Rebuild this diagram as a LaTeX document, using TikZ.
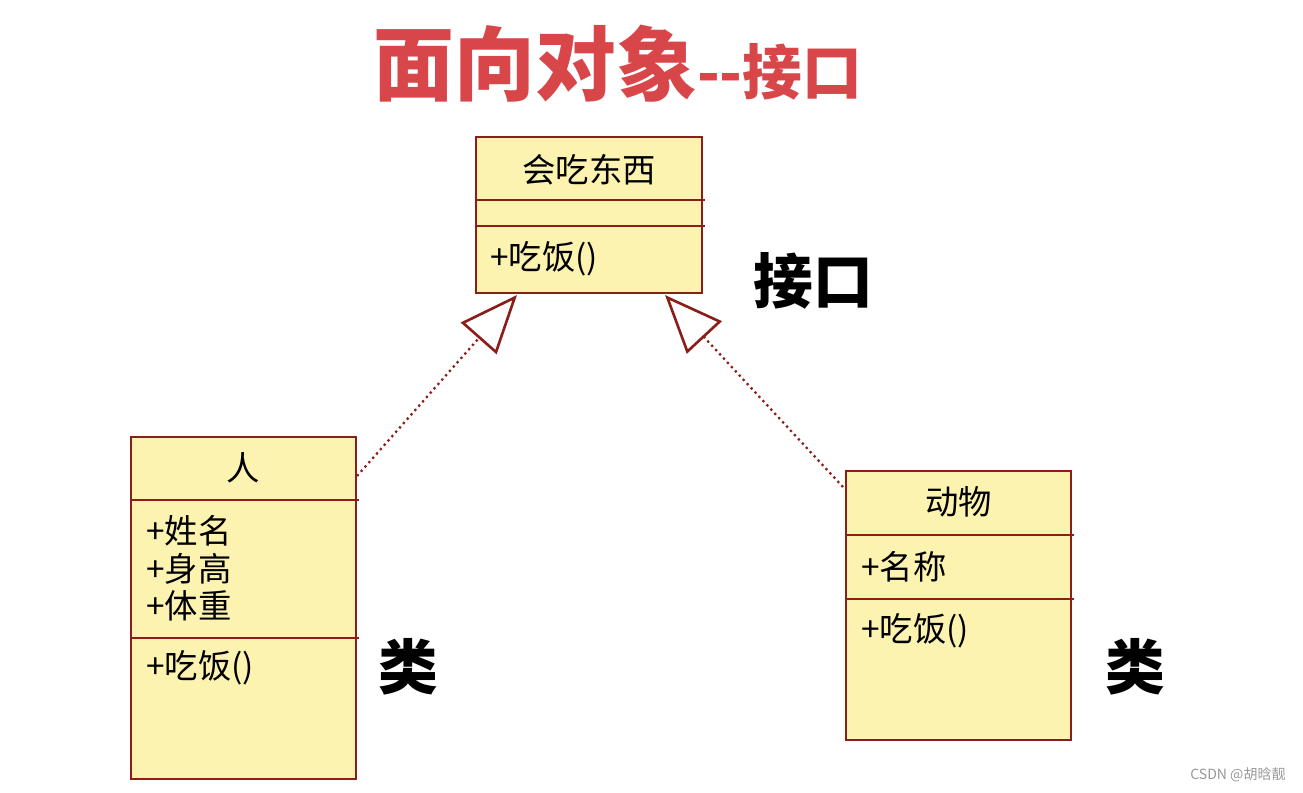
\documentclass[tikz,border=0pt]{standalone}
\usepackage{fontspec}
\setmainfont{Noto Sans CJK SC}
\usetikzlibrary{arrows.meta}
\definecolor{umlfill}{HTML}{FDF3B0}
\definecolor{umlline}{HTML}{8A1F1A}
\definecolor{titlered}{HTML}{D8464A}
\begin{document}
\begin{tikzpicture}[x=0.02cm, y=-0.02cm,
  umlbox/.style={draw=umlline, fill=umlfill, line width=1.4pt, minimum width=4.5cm},
  divider/.style={umlline, line width=1.4pt},
  boxtitle/.style={font=\fontsize{19}{19}\selectfont},
  member/.style={anchor=west, font=\fontsize{19}{19}\selectfont, inner sep=0pt},
  bigtag/.style={font=\fontsize{34}{34}\selectfont\bfseries},
  realize/.style={umlline, line width=1.3pt, dotted, -{Triangle[open, length=33pt, width=27pt, line width=1.5pt, fill=white]}}]
\useasboundingbox (0,0) rectangle (1303,792);
% title
\node[text=titlered, font=\bfseries] (title) at (618,64) {{\fontsize{46}{46}\selectfont 面向对象}{\fontsize{34}{34}\selectfont -{}-接口}};
% interface
\node[umlbox, minimum height=3.12cm, minimum width=4.52cm] (iface) at (589,215) {};
\node[boxtitle] (ifacename) at (589,170) {会吃东西};
\draw[divider] (476,200) -- (705,200);
\draw[divider] (476,226) -- (705,226);
\node[member] (ifaceop) at (490,259) {+吃饭()};
\node[bigtag] (ifacetag) at (813,281) {接口};
% class person
\node[umlbox, minimum height=6.84cm] (person) at (243.5,608) {};
\node[boxtitle] (personname) at (243.5,468) {人};
\draw[divider] (131,500) -- (359,500);
\draw[divider] (131,638) -- (359,638);
\node[member] (attr1) at (146,531) {+姓名};
\node[member] (attr2) at (146,569) {+身高};
\node[member] (attr3) at (146,606) {+体重};
\node[member] (personop) at (146,668) {+吃饭()};
\node[bigtag] (persontag) at (408,667) {类};
% class animal
\node[umlbox, minimum height=5.38cm] (animal) at (958.5,605.5) {};
\node[boxtitle] (animalname) at (958.5,502) {动物};
\draw[divider] (846,535) -- (1074,535);
\draw[divider] (846,599) -- (1074,599);
\node[member] (attr4) at (861,567) {+名称};
\node[member] (animalop) at (861,631) {+吃饭()};
\node[bigtag] (animaltag) at (1135,667) {类};
% realizations
\coordinate (personport) at (357,476);
\coordinate (animalport) at (843,487);
\coordinate (ifaceleft) at (517,295);
\coordinate (ifaceright) at (665,295);
\draw[realize] (personport) -- (ifaceleft);
\draw[realize] (animalport) -- (ifaceright);
% watermark
\node[text=gray!80, font=\fontsize{8}{8}\selectfont] (mark) at (1238,775) {CSDN @胡晗靓};
\end{tikzpicture}
\end{document}
